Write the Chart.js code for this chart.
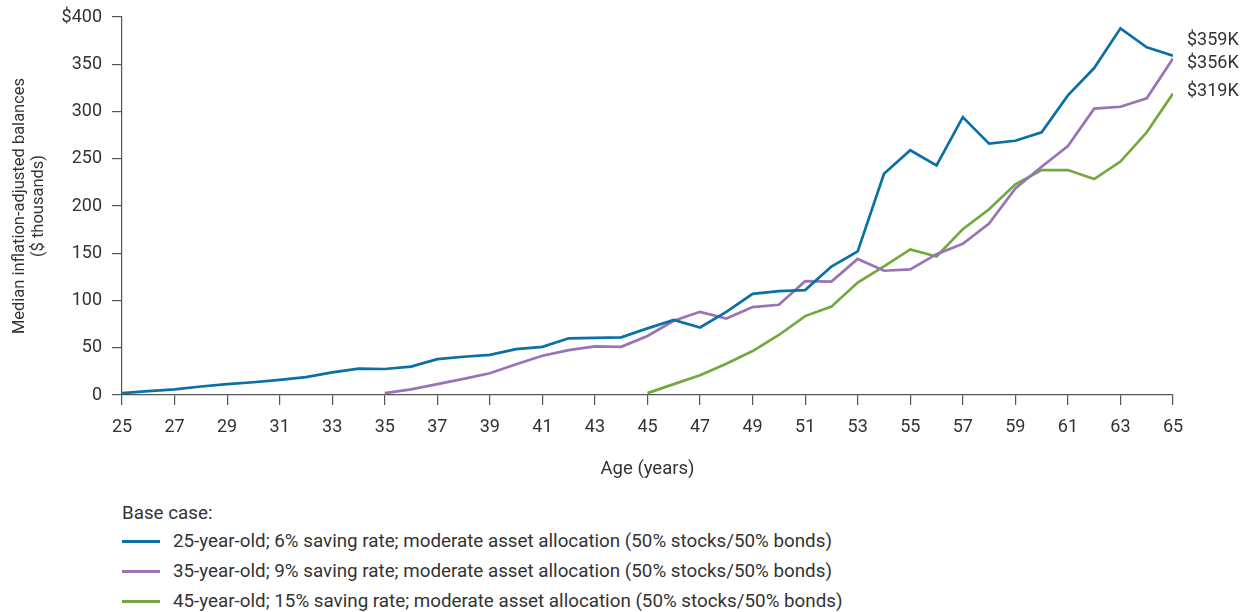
<!DOCTYPE html>
<html>
<head>
<meta charset="utf-8">
<script src="https://cdn.jsdelivr.net/npm/chart.js@4.4.1/dist/chart.umd.min.js"></script>
<style>
  html, body { margin: 0; padding: 0; background: #fff; }
  body { width: 1250px; height: 612px; position: relative; overflow: hidden;
         font-family: Roboto, "Liberation Sans", Arial, sans-serif; color: #333; }
  #wrap { position: absolute; left: 0; top: 0; width: 1250px; height: 480px; }
  #legend { position: absolute; left: 122px; top: 499px; font-size: 18.8px; }
  #legend .head { height: 27px; line-height: 28px; }
  #legend .item { height: 30px; line-height: 30px; display: flex; align-items: center; }
  #legend .swatch { width: 38px; height: 3px; margin-right: 13px; }
</style>
</head>
<body>
<div id="wrap"><canvas id="chart"></canvas></div>
<div id="legend"></div>
<script>
// Age in years along the horizontal axis
const ages = [25,26,27,28,29,30,31,32,33,34,35,36,37,38,39,40,41,42,43,44,45,
              46,47,48,49,50,51,52,53,54,55,56,57,58,59,60,61,62,63,64,65];

// Median inflation-adjusted balances, $ thousands (null = saver not yet started)
const start25 = [2,4,6,9,11.5,13.5,16,19,24,28,27.5,30,38,40.5,42.5,48.5,51,60,60.5,61,70.5,
                 79.5,71.5,88,107,110,111,136,152,234,259,243,294,266,269,278,317,346,388,368,359];
const start35 = [null,null,null,null,null,null,null,null,null,null,
                 2,6,11.5,17,23,32.5,41.5,47.5,51.5,51,62.5,
                 78.5,88,81,93,95.5,120.5,120,144,131.5,133,149,160,181.5,218.5,241.5,263.5,303,305,314,356];
const start45 = [null,null,null,null,null,null,null,null,null,null,
                 null,null,null,null,null,null,null,null,null,null,
                 2,11.5,21,33,46.5,63.5,83.5,93.5,119,136,154,146.5,175.5,196.5,223,238,238,228.5,247,278,319];

const seriesNames = [
  "25-year-old; 6% saving rate; moderate asset allocation (50% stocks/50% bonds)",
  "35-year-old; 9% saving rate; moderate asset allocation (50% stocks/50% bonds)",
  "45-year-old; 15% saving rate; moderate asset allocation (50% stocks/50% bonds)"
];
const seriesColors = ["#0a70a6", "#9a73b6", "#72a83f"];
const yTicks = [0,50,100,150,200,250,300,350,400];

const FONT = "Roboto, 'Liberation Sans', Arial, sans-serif";
const TEXT = "#333";
const AXIS = "#555";

const toPoints = vals => ages.map((a, i) => ({ x: a, y: vals[i] })).filter(p => p.y !== null);

const allSeries = [start25, start35, start45];
const datasets = allSeries.map((vals, i) => ({
  label: seriesNames[i],
  data: toPoints(vals),
  borderColor: seriesColors[i],
  backgroundColor: seriesColors[i],
  borderWidth: 2.7,
  pointRadius: 0,
  tension: 0,
  fill: false
}));

// Ending balance labels, placed just right of each line's last point
const endLabelOffsets = [-15, 5, -2];
const endLabels = {
  id: 'endLabels',
  afterDatasetsDraw(chart) {
    const ctx = chart.ctx;
    ctx.save();
    ctx.font = "18px " + FONT;
    ctx.fillStyle = TEXT;
    ctx.textAlign = 'left';
    ctx.textBaseline = 'middle';
    chart.data.datasets.forEach((ds, i) => {
      const meta = chart.getDatasetMeta(i);
      const last = meta.data[meta.data.length - 1];
      const v = ds.data[ds.data.length - 1].y;
      ctx.fillText('$' + Math.round(v) + 'K', last.x + 14, last.y + endLabelOffsets[i]);
    });
    ctx.restore();
  }
};

new Chart(document.getElementById('chart'), {
  type: 'line',
  data: { datasets },
  options: {
    responsive: true,
    maintainAspectRatio: false,
    animation: false,
    layout: { padding: { top: 17, right: 77, left: 0, bottom: 0 } },
    plugins: { legend: { display: false }, tooltip: { enabled: false } },
    scales: {
      x: {
        type: 'linear',
        min: 25, max: 65,
        afterFit: s => { s.height = 85; },
        border: { display: true, color: AXIS, width: 1.2 },
        grid: { drawOnChartArea: false, drawTicks: true, tickLength: 10, color: AXIS, lineWidth: 1.2 },
        ticks: { stepSize: 2, padding: 12, color: TEXT, font: { family: FONT, size: 18 },
                 maxRotation: 0, autoSkip: false },
        title: { display: true, text: 'Age (years)', color: TEXT,
                 font: { family: FONT, size: 18.5 }, padding: { top: 12, bottom: 0 } }
      },
      y: {
        min: 0, max: 400,
        afterFit: s => { s.width = 122; s.paddingTop = 0; s.paddingBottom = 0; },
        afterBuildTicks: s => { s.ticks = yTicks.map(v => ({ value: v })); },
        border: { display: true, color: AXIS, width: 1.2 },
        grid: { drawOnChartArea: false, drawTicks: true, tickLength: 10, color: AXIS, lineWidth: 1.2 },
        ticks: { padding: 10, color: TEXT, font: { family: FONT, size: 18 },
                 callback: v => v === 400 ? '$400' : String(v) },
        title: { display: true, text: ['Median inflation-adjusted balances', '($ thousands)'],
                 color: TEXT, font: { family: FONT, size: 16.5, lineHeight: 1.15 },
                 padding: { top: 10, bottom: 0 } }
      }
    }
  },
  plugins: [endLabels]
});

// Legend block beneath the chart
const legend = document.getElementById('legend');
const head = document.createElement('div');
head.className = 'head';
head.textContent = 'Base case:';
legend.appendChild(head);
seriesNames.forEach((name, i) => {
  const row = document.createElement('div');
  row.className = 'item';
  const sw = document.createElement('span');
  sw.className = 'swatch';
  sw.style.background = seriesColors[i];
  const tx = document.createElement('span');
  tx.textContent = name;
  row.appendChild(sw);
  row.appendChild(tx);
  legend.appendChild(row);
});
</script>
</body>
</html>
